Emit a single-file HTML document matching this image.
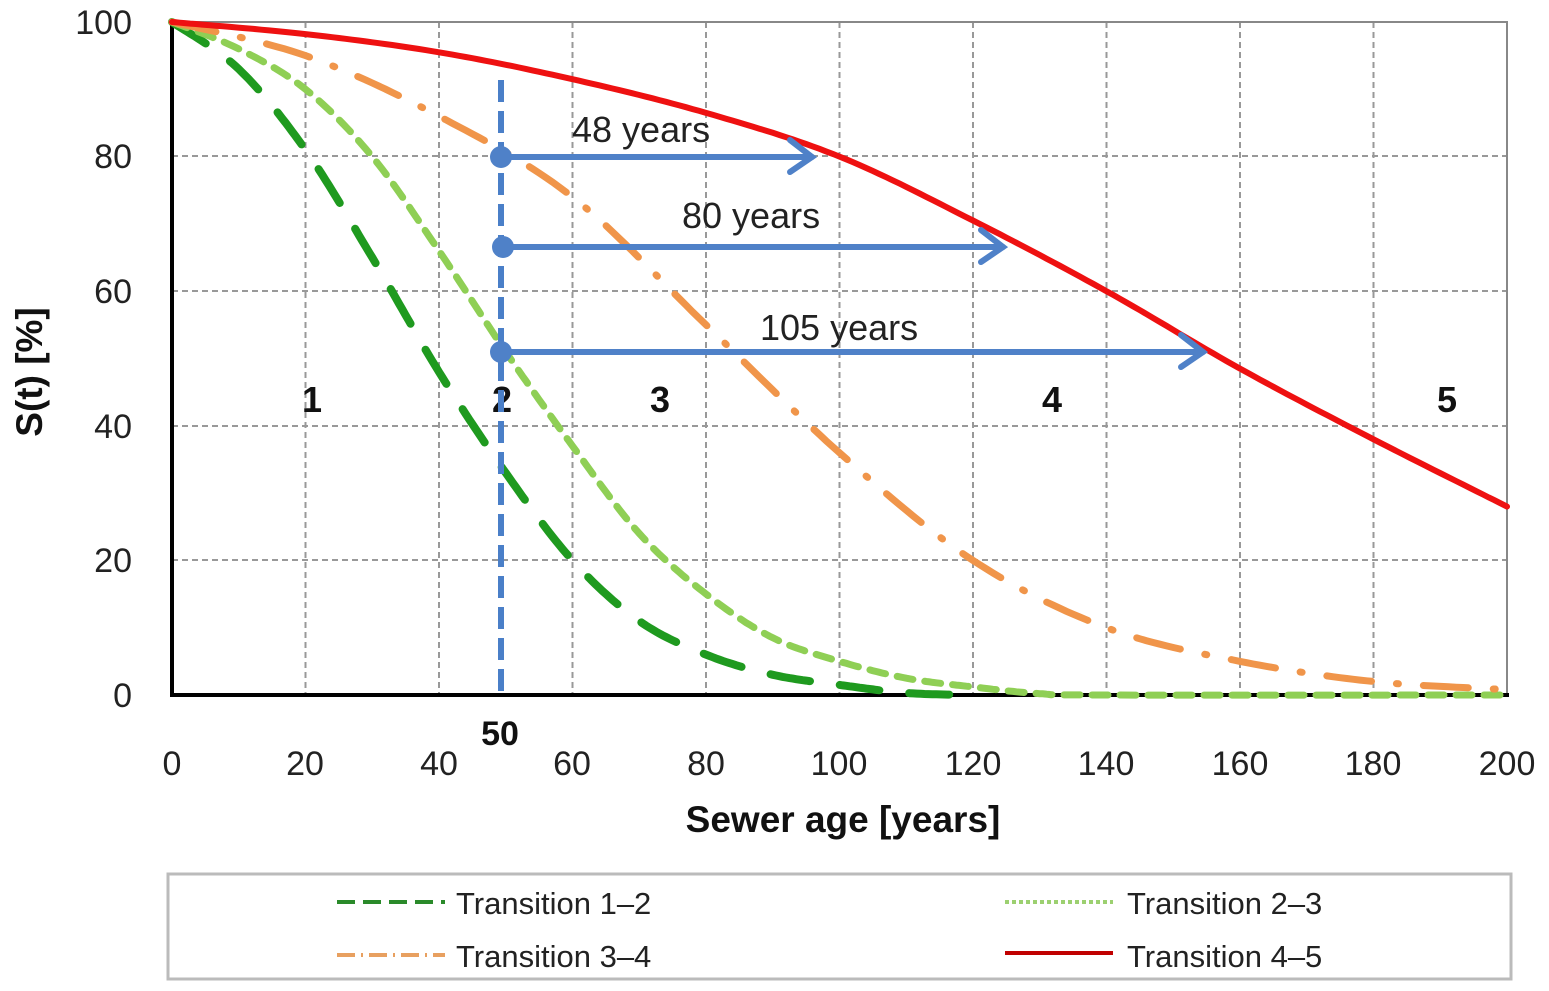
<!DOCTYPE html>
<html><head><style>body{margin:0;background:#fff}svg{display:block}</style></head><body>
<svg id="s" width="1549" height="991" xmlns="http://www.w3.org/2000/svg" font-family="Liberation Sans, DejaVu Sans, sans-serif">
<g stroke="#999" stroke-width="2" stroke-dasharray="6,4" fill="none">
<line x1="305.5" y1="22" x2="305.5" y2="695"/><line x1="439" y1="22" x2="439" y2="695"/><line x1="572.5" y1="22" x2="572.5" y2="695"/><line x1="706" y1="22" x2="706" y2="695"/><line x1="839.5" y1="22" x2="839.5" y2="695"/><line x1="973" y1="22" x2="973" y2="695"/><line x1="1106.5" y1="22" x2="1106.5" y2="695"/><line x1="1240" y1="22" x2="1240" y2="695"/><line x1="1373.5" y1="22" x2="1373.5" y2="695"/>
<line x1="172" y1="156" x2="1507" y2="156"/><line x1="172" y1="291" x2="1507" y2="291"/><line x1="172" y1="426" x2="1507" y2="426"/><line x1="172" y1="560" x2="1507" y2="560"/>
</g>
<rect x="172" y="22" width="1335" height="673" fill="none" stroke="#888" stroke-width="2"/>
<line x1="172" y1="20" x2="172" y2="697" stroke="#000" stroke-width="4"/>
<line x1="170" y1="695" x2="1509" y2="695" stroke="#000" stroke-width="4"/>
<g id="curves" fill="none" stroke-linecap="round"></g>
<g fill="#222" font-size="34" text-anchor="end">
<text x="132" y="34">100</text><text x="132" y="168">80</text><text x="132" y="303">60</text><text x="132" y="438">40</text><text x="132" y="572">20</text><text x="132" y="707">0</text>
</g>
<g fill="#222" font-size="34" text-anchor="middle">
<text x="172" y="775">0</text><text x="305" y="775">20</text><text x="439" y="775">40</text><text x="572" y="775">60</text><text x="706" y="775">80</text><text x="839" y="775">100</text><text x="973" y="775">120</text><text x="1106" y="775">140</text><text x="1240" y="775">160</text><text x="1373" y="775">180</text><text x="1507" y="775">200</text>
</g>
<text x="500" y="745" font-size="34" font-weight="bold" text-anchor="middle" fill="#111">50</text>
<text x="843" y="832" font-size="37" font-weight="bold" text-anchor="middle" fill="#111">Sewer age [years]</text>
<text transform="translate(42,372) rotate(-90)" font-size="37" font-weight="bold" text-anchor="middle" fill="#111">S(t) [%]</text>
<g font-size="36" font-weight="bold" text-anchor="middle" fill="#111">
<text x="312" y="412">1</text><text x="502" y="412">2</text><text x="660" y="412">3</text><text x="1052" y="412">4</text><text x="1447" y="412">5</text>
</g>
<line x1="501" y1="80" x2="501" y2="695" stroke="#4a7fc8" stroke-width="6" stroke-dasharray="22,9"/>
<g stroke="#4f81c8" stroke-width="6" fill="none" stroke-linecap="round">
<line x1="501" y1="157" x2="812" y2="157"/><polyline points="790,140 812,157 790,172"/>
<line x1="501" y1="247" x2="1003" y2="247"/><polyline points="981,230 1003,247 981,262"/>
<line x1="501" y1="352" x2="1203" y2="352"/><polyline points="1181,335 1203,352 1181,367"/>
</g>
<g fill="#4f81c8"><circle cx="501" cy="157" r="11"/><circle cx="503" cy="247" r="11"/><circle cx="501" cy="352" r="11"/></g>
<g font-size="36" fill="#222">
<text x="572" y="142">48 years</text><text x="682" y="228">80 years</text><text x="760" y="340">105 years</text>
</g>
<rect x="168" y="874" width="1343" height="105" fill="#fff" stroke="#bbb" stroke-width="3"/>
<g stroke-width="4" fill="none">
<line x1="337" y1="902" x2="445" y2="902" stroke="#2a8a2a" stroke-dasharray="18,8"/>
<line x1="1005" y1="902" x2="1113" y2="902" stroke="#9cd070" stroke-dasharray="4,3"/>
<line x1="337" y1="955" x2="445" y2="955" stroke="#e8a060" stroke-dasharray="18,6,2,6"/>
<line x1="1005" y1="953" x2="1113" y2="953" stroke="#c00000"/>
</g>
<g font-size="31" fill="#222">
<text x="456" y="914">Transition  1–2</text><text x="1127" y="914">Transition  2–3</text>
<text x="456" y="967">Transition  3–4</text><text x="1127" y="967">Transition  4–5</text>
</g>
</svg>
<script>
function X(t){return 172+t*6.675}function Y(s){return 695-s*6.73}
function path(d){var p=[];for(var i=0;i<d.length-1;i++){var a=d[i],b=d[i+1];for(var k=0;k<20;k++){var u=k/20;var pm=d[i-1]||a,pn=d[i+2]||b;var u2=u*u,u3=u2*u;function cr(p0,p1,p2,p3){return 0.5*((2*p1)+(-p0+p2)*u+(2*p0-5*p1+4*p2-p3)*u2+(-p0+3*p1-3*p2+p3)*u3)}p.push(X(cr(pm[0],a[0],b[0],pn[0])).toFixed(1)+','+Y(cr(pm[1],a[1],b[1],pn[1])).toFixed(1))}}var l=d[d.length-1];p.push(X(l[0])+','+Y(l[1]));return 'M'+p.join('L')}
var C=[
[[[0,100],[10,93],[20,81],[30,65],[40,48],[50,33],[60,20],[70,11],[80,6],[90,3],[100,1.5],[110,0.3],[120,0]],'#1f9a1f','8','40,30'],
[[[0,100],[10,96],[20,90],[30,80],[40,66],[50,51],[60,37],[70,24],[80,15],[90,8.5],[100,5],[110,2.5],[120,1.2],[130,0.2],[140,0],[200,0]],'#8fcf55','7','16,12'],
[[[0,100],[20,95],[40,86],[60,74],[80,55],[100,36],[120,20],[140,10],[160,5],[180,2],[200,0.8]],'#f0954a','7','45,25,2,25'],
[[[0,100],[20,98.2],[40,95.5],[60,91.5],[80,86.5],[100,80],[120,70.5],[140,60],[160,48.5],[180,38],[200,28]],'#ee1111','6','']];
var g=document.getElementById('curves');C.forEach(function(c){var e=document.createElementNS('http://www.w3.org/2000/svg','path');e.setAttribute('d',path(c[0]));e.setAttribute('stroke',c[1]);e.setAttribute('stroke-width',c[2]);if(c[3])e.setAttribute('stroke-dasharray',c[3]);g.appendChild(e)});
</script>
</body></html>
